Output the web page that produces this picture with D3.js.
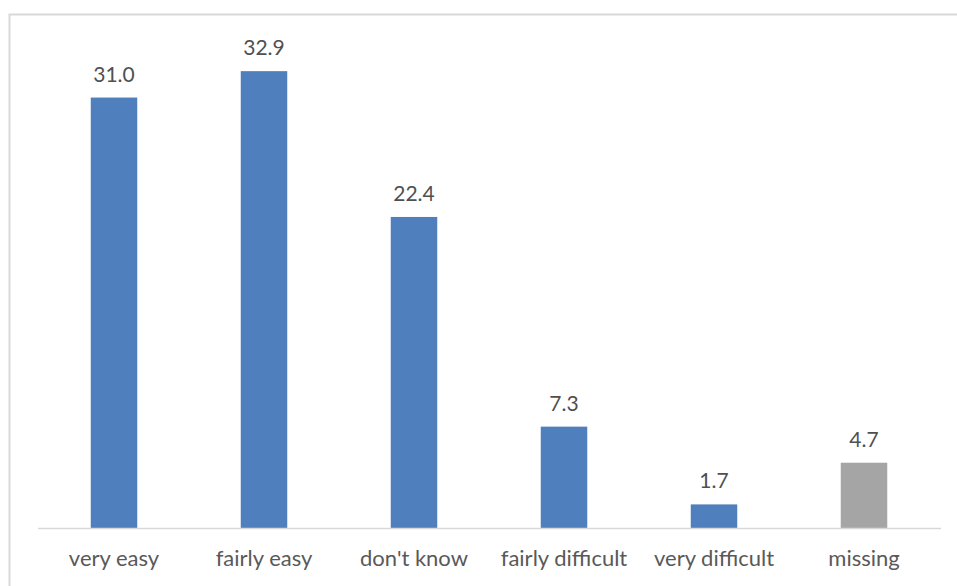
<!DOCTYPE html>
<html>
<head>
<meta charset="utf-8">
<script src="https://cdn.jsdelivr.net/npm/d3@7"></script>
<style>
  html, body { margin: 0; padding: 0; background: #fff; }
  svg { display: block; }
</style>
</head>
<body>
<svg id="chart" width="957" height="586"></svg>
<script>
// Survey answers and their shares (%)
const categories = ["very easy", "fairly easy", "don't know", "fairly difficult", "very difficult", "missing"];
const values = [31.0, 32.9, 22.4, 7.3, 1.7, 4.7];
const barColors = ["#4f7fbc", "#4f7fbc", "#4f7fbc", "#4f7fbc", "#4f7fbc", "#a5a5a5"];

const svg = d3.select("#chart");
const W = 957, H = 586;
const font = "Lato, 'Open Sans', sans-serif";

// chart area frame
svg.append("rect")
  .attr("x", 9.5).attr("y", 14.5)
  .attr("width", W + 10).attr("height", H + 10)
  .attr("fill", "none")
  .attr("stroke", "#d9d9d9")
  .attr("stroke-width", 2);

const plot = { left: 39, right: 939, top: 42, bottom: 528 };

const x = d3.scaleBand()
  .domain(categories)
  .range([plot.left, plot.right])
  .paddingInner(0.69)
  .paddingOuter(0.345);

const y = d3.scaleLinear()
  .domain([0, 35])
  .range([plot.bottom, plot.top]);

const data = categories.map((c, i) => ({ c, v: values[i], color: barColors[i] }));

// bars
svg.append("g").selectAll("rect")
  .data(data)
  .join("rect")
  .attr("x", d => x(d.c))
  .attr("y", d => y(d.v))
  .attr("width", x.bandwidth())
  .attr("height", d => y(0) - y(d.v))
  .attr("fill", d => d.color);

// category axis
const xAxis = svg.append("g")
  .attr("transform", `translate(0,${plot.bottom})`)
  .call(d3.axisBottom(x).tickSize(0).tickSizeOuter(0).tickPadding(22));
xAxis.select(".domain").attr("stroke", "#d9d9d9").attr("stroke-width", 1.5)
  .attr("d", `M${plot.left - 1},0.5H${plot.right + 2}`);
xAxis.selectAll("text")
  .attr("font-family", font)
  .attr("font-size", 22)
  .attr("fill", "#595959");

// value labels
svg.append("g").selectAll("text")
  .data(data)
  .join("text")
  .attr("x", d => x(d.c) + x.bandwidth() / 2)
  .attr("y", d => y(d.v) - 16)
  .attr("text-anchor", "middle")
  .attr("font-family", font)
  .attr("font-size", 21)
  .attr("fill", "#505050")
  .text(d => d3.format(".1f")(d.v));
</script>
</body>
</html>
